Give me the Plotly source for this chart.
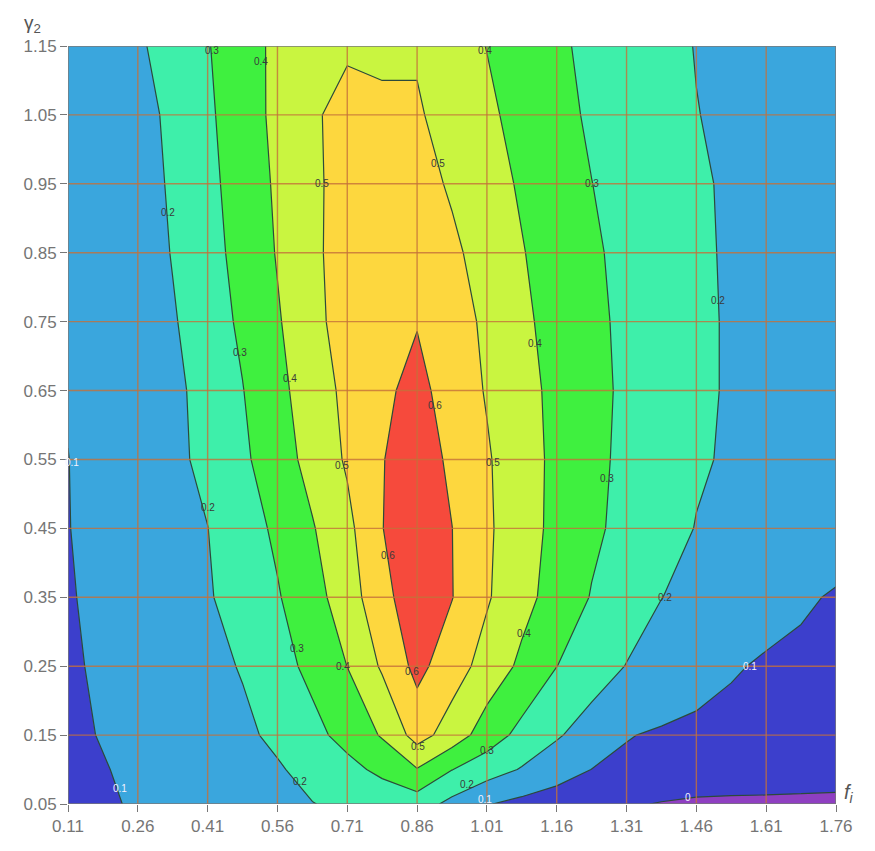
import plotly.graph_objects as go

# grid coordinates (f_i along x, gamma_2 along y)
x_grid = [0.11, 0.185, 0.26, 0.335, 0.41, 0.485, 0.56, 0.635, 0.71, 0.785, 0.86, 0.935,
          1.01, 1.085, 1.16, 1.235, 1.31, 1.385, 1.46, 1.535, 1.61, 1.685, 1.76]
y_grid = [0.05, 0.10, 0.15, 0.25, 0.35, 0.45, 0.55, 0.65, 0.75, 0.85, 0.95, 1.05, 1.15]

# values, one row per y
z_005 = [0.070, 0.090, 0.108, 0.126, 0.144, 0.162, 0.180, 0.198, 0.215, 0.233, 0.248, 0.173,
         0.105, 0.075, 0.050, 0.030, 0.010, -0.005, -0.015, -0.016, -0.016, -0.017, -0.018]
z_010 = [0.075, 0.096, 0.115, 0.135, 0.154, 0.173, 0.192, 0.225, 0.270, 0.324, 0.395, 0.302,
         0.246, 0.193, 0.145, 0.099, 0.085, 0.072, 0.060, 0.050, 0.045, 0.040, 0.035]
z_015 = [0.085, 0.104, 0.124, 0.144, 0.165, 0.185, 0.216, 0.271, 0.334, 0.409, 0.540, 0.455,
         0.351, 0.271, 0.210, 0.157, 0.104, 0.090, 0.080, 0.075, 0.070, 0.062, 0.055]
z_025 = [0.089, 0.112, 0.134, 0.157, 0.179, 0.205, 0.263, 0.326, 0.401, 0.513, 0.628, 0.545,
         0.463, 0.380, 0.301, 0.247, 0.197, 0.167, 0.137, 0.108, 0.090, 0.080, 0.070]
z_035 = [0.094, 0.118, 0.143, 0.167, 0.192, 0.237, 0.292, 0.366, 0.447, 0.575, 0.650, 0.603,
         0.510, 0.432, 0.360, 0.295, 0.250, 0.201, 0.179, 0.157, 0.135, 0.113, 0.091]
z_045 = [0.098, 0.124, 0.149, 0.174, 0.199, 0.255, 0.318, 0.393, 0.474, 0.598, 0.660, 0.601,
         0.515, 0.441, 0.375, 0.318, 0.273, 0.234, 0.197, 0.180, 0.170, 0.160, 0.150]
z_055 = [0.099, 0.126, 0.154, 0.181, 0.220, 0.282, 0.356, 0.432, 0.512, 0.596, 0.650, 0.582,
         0.510, 0.441, 0.378, 0.323, 0.280, 0.245, 0.210, 0.190, 0.175, 0.165, 0.160]
z_065 = [0.105, 0.110, 0.116, 0.176, 0.236, 0.297, 0.373, 0.451, 0.523, 0.580, 0.630, 0.555,
         0.493, 0.432, 0.376, 0.326, 0.284, 0.251, 0.219, 0.190, 0.175, 0.165, 0.155]
z_075 = [0.112, 0.125, 0.130, 0.191, 0.253, 0.317, 0.391, 0.467, 0.550, 0.590, 0.595, 0.560,
         0.475, 0.418, 0.368, 0.320, 0.282, 0.250, 0.219, 0.190, 0.175, 0.165, 0.155]
z_085 = [0.120, 0.135, 0.145, 0.205, 0.266, 0.332, 0.406, 0.477, 0.550, 0.580, 0.580, 0.520,
         0.458, 0.405, 0.358, 0.313, 0.277, 0.246, 0.214, 0.190, 0.175, 0.165, 0.155]
z_095 = [0.125, 0.140, 0.153, 0.214, 0.275, 0.343, 0.414, 0.480, 0.540, 0.560, 0.540, 0.487,
         0.437, 0.389, 0.345, 0.301, 0.270, 0.240, 0.210, 0.190, 0.175, 0.165, 0.155]
z_105 = [0.130, 0.150, 0.161, 0.223, 0.284, 0.354, 0.423, 0.490, 0.525, 0.530, 0.510, 0.464,
         0.417, 0.371, 0.326, 0.288, 0.259, 0.231, 0.202, 0.185, 0.170, 0.160, 0.150]
z_115 = [0.150, 0.170, 0.186, 0.240, 0.294, 0.363, 0.419, 0.462, 0.490, 0.470, 0.490, 0.440,
         0.398, 0.356, 0.314, 0.281, 0.253, 0.225, 0.197, 0.180, 0.170, 0.160, 0.150]

z_rows = [z_005, z_010, z_015, z_025, z_035, z_045, z_055, z_065, z_075, z_085, z_095, z_105, z_115]

x_ticks = [0.11, 0.26, 0.41, 0.56, 0.71, 0.86, 1.01, 1.16, 1.31, 1.46, 1.61, 1.76]
x_tick_text = ["0.11", "0.26", "0.41", "0.56", "0.71", "0.86", "1.01", "1.16", "1.31", "1.46", "1.61", "1.76"]
y_ticks = [0.05, 0.15, 0.25, 0.35, 0.45, 0.55, 0.65, 0.75, 0.85, 0.95, 1.05, 1.15]
y_tick_text = ["0.05", "0.15", "0.25", "0.35", "0.45", "0.55", "0.65", "0.75", "0.85", "0.95", "1.05", "1.15"]

band_colors = ["#8f3fc2", "#3c3fcc", "#3aa6dd", "#3eefaa", "#3ff03f", "#c9f540", "#fdd73e", "#f64a3c"]

# contour labels (x, y, text, colour)
label_x = [0.419, 0.525, 1.006, 0.325, 0.656, 0.905, 1.236, 1.507, 0.480, 0.587, 1.114, 0.899,
           0.119, 0.699, 1.023, 0.411, 1.268, 0.798, 1.393, 0.602, 0.701, 1.090, 0.849, 1.576,
           0.862, 1.010, 0.609, 0.968, 1.006, 0.222, 1.442]
label_y = [1.144, 1.127, 1.144, 0.909, 0.951, 0.980, 0.951, 0.781, 0.705, 0.667, 0.719, 0.628,
           0.546, 0.541, 0.545, 0.481, 0.523, 0.410, 0.350, 0.275, 0.249, 0.298, 0.242, 0.249,
           0.133, 0.128, 0.083, 0.078, 0.056, 0.073, 0.060]
label_text = ["0.3", "0.4", "0.4", "0.2", "0.5", "0.5", "0.3", "0.2", "0.3", "0.4", "0.4", "0.6",
              "0.1", "0.5", "0.5", "0.2", "0.3", "0.6", "0.2", "0.3", "0.4", "0.4", "0.6", "0.1",
              "0.5", "0.3", "0.2", "0.2", "0.1", "0.1", "0"]
label_white = [False, False, False, False, False, False, False, False, False, False, False, False,
               True, False, False, False, False, False, False, False, False, False, False, True,
               False, False, False, False, True, True, True]

n = len(band_colors)
colorscale = [[k / (n - 1), c] for k, c in enumerate(band_colors)]

fig = go.Figure()
fig.add_trace(go.Contour(
    x=x_grid, y=y_grid, z=z_rows,
    autocontour=False,
    contours=dict(start=0, end=0.6, size=0.1, coloring="fill", showlabels=False),
    colorscale=colorscale,
    showscale=False,
    line=dict(color="#2c4a3a", width=1.2, smoothing=0),
    hoverinfo="skip",
))

# grid lines drawn above the filled contours
grid_color = "rgba(196,112,58,0.8)"
for xv in x_ticks[1:-1]:
    fig.add_shape(type="line", xref="x", yref="y", x0=xv, x1=xv, y0=y_ticks[0], y1=y_ticks[-1],
                  line=dict(color=grid_color, width=1.4), layer="above")
for yv in y_ticks[1:-1]:
    fig.add_shape(type="line", xref="x", yref="y", x0=x_ticks[0], x1=x_ticks[-1], y0=yv, y1=yv,
                  line=dict(color=grid_color, width=1.4), layer="above")
fig.add_shape(type="rect", xref="x", yref="y", x0=x_ticks[0], x1=x_ticks[-1], y0=y_ticks[0], y1=y_ticks[-1],
              line=dict(color="#7a7a7a", width=1.5), layer="above")

for lx, ly, lt, lw in zip(label_x, label_y, label_text, label_white):
    fig.add_annotation(x=lx, y=ly, text=lt, showarrow=False, xref="x", yref="y",
                       font=dict(family="Liberation Sans", size=10,
                                 color="#f4f4ff" if lw else "#3a3a3a"))

fig.add_annotation(x=0.0, y=1.0, xref="paper", yref="paper", text="γ<sub>2</sub>",
                   showarrow=False, xanchor="center", yanchor="bottom", yshift=8, xshift=-36,
                   font=dict(family="Liberation Sans", size=19, color="#555"))
fig.add_annotation(x=1.0, y=0.0, xref="paper", yref="paper", text="<i>f<sub>i</sub></i>",
                   showarrow=False, xanchor="left", yanchor="bottom", xshift=6, yshift=-4,
                   font=dict(family="Liberation Sans", size=20, color="#555"))

axis_font = dict(family="Liberation Sans", size=17, color="#757575")
fig.update_xaxes(range=[x_ticks[0], x_ticks[-1]], tickvals=x_ticks, ticktext=x_tick_text,
                 showgrid=False, zeroline=False, ticks="outside", ticklen=7, tickcolor="#777",
                 tickfont=axis_font, showline=False)
fig.update_yaxes(range=[y_ticks[0], y_ticks[-1]], tickvals=y_ticks, ticktext=y_tick_text,
                 showgrid=False, zeroline=False, ticks="outside", ticklen=7, tickcolor="#777",
                 tickfont=axis_font, showline=False)

fig.update_layout(width=875, height=851, margin=dict(l=68, r=39, t=46, b=47),
                  paper_bgcolor="white", plot_bgcolor="white", showlegend=False)

fig.write_html("out.html")
